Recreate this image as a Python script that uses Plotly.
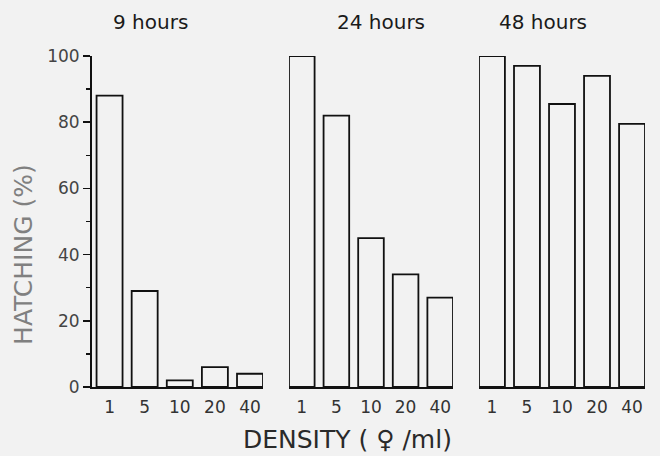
import plotly.graph_objects as go

densities = ["1", "5", "10", "20", "40"]
hatch_9h = [88, 29, 2, 6, 4]
hatch_24h = [100, 82, 45, 34, 27]
hatch_48h = [100, 97, 85.5, 94, 79.5]
panel_titles = ["9 hours", "24 hours", "48 hours"]

BG = "#f2f2f2"
FONT = "DejaVu Sans"

fig = go.Figure()
series = [hatch_9h, hatch_24h, hatch_48h]
for i, vals in enumerate(series):
    suffix = "" if i == 0 else str(i + 1)
    fig.add_trace(go.Bar(
        x=densities, y=vals, width=0.74,
        marker=dict(color=BG, line=dict(color="#111", width=1.8)),
        xaxis="x" + suffix, yaxis="y" + suffix,
        showlegend=False, cliponaxis=False, hoverinfo="skip"))

def xaxis(domain, rng, anchor):
    return dict(domain=domain, range=rng, anchor=anchor, type="category",
                showline=True, linecolor="#111", linewidth=2,
                ticks="outside", ticklen=4, tickcolor="rgba(0,0,0,0)",
                showgrid=False, zeroline=False,
                tickfont=dict(family=FONT, size=17, color="#333"))

yhidden = dict(range=[0, 100], visible=False, domain=[0, 1])

fig.update_layout(
    width=660, height=456,
    margin=dict(l=92, r=15, t=56, b=69),
    paper_bgcolor=BG, plot_bgcolor=BG,
    xaxis=xaxis([0, 0.3092], [-0.5, 4.37], "y"),
    xaxis2=xaxis([0.3562, 0.6528], [-0.37, 4.37], "y2"),
    xaxis3=xaxis([0.6998, 1.0], [-0.37, 4.37], "y3"),
    yaxis=dict(range=[0, 100], domain=[0, 1], showline=True, linecolor="#111",
               linewidth=2, ticks="outside", ticklen=7, tickwidth=1.5,
               tickcolor="#111", dtick=20, showgrid=False, zeroline=False,
               minor=dict(dtick=10, ticks="outside", ticklen=4, tickwidth=1.5,
                          tickcolor="#111", showgrid=False),
               tickfont=dict(family=FONT, size=17, color="#444")),
    yaxis2=dict(yhidden, anchor="x2"),
    yaxis3=dict(yhidden, anchor="x3"),
    bargap=0.26,
)

title_x = [0.1049, 0.5226, 0.8156]
for t, xx in zip(panel_titles, title_x):
    fig.add_annotation(text=t, x=xx, y=1.1027, xref="paper", yref="paper",
                       showarrow=False, xanchor="center", yanchor="middle",
                       font=dict(family=FONT, size=20, color="#1a1a1a"))

fig.add_annotation(text="HATCHING (%)", x=-0.123, y=0.402, xref="paper",
                   yref="paper", showarrow=False, textangle=-90,
                   xanchor="center", yanchor="middle",
                   font=dict(family=FONT, size=25, color="#808080"))
fig.add_annotation(text="DENSITY ( ♀ /ml)", x=0.4629, y=-0.160, xref="paper",
                   yref="paper", showarrow=False, xanchor="center",
                   yanchor="middle",
                   font=dict(family=FONT, size=25, color="#2a2a2a"))

fig.write_html(
    "out.html",
    config={"displayModeBar": False, "staticPlot": True},
    post_script="document.body.style.margin='0';"
                "document.body.style.overflow='hidden';"
                "document.body.style.background='#f2f2f2';",
)
